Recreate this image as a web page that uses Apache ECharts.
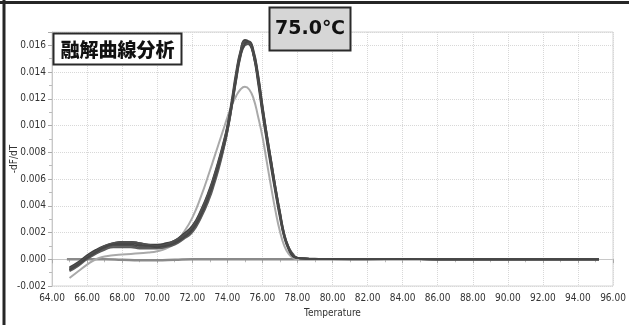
<!DOCTYPE html>
<html>
<head>
<meta charset="utf-8">
<script src="https://cdn.jsdelivr.net/npm/echarts@6/dist/echarts.min.js"></script>
<style>
html,body{margin:0;padding:0;background:#fff;}
#chart{width:629px;height:325px;}
</style>
</head>
<body>
<div id="chart"></div>
<script>
// Temperatures (°C) shared by the sample curves
const temps = [65, 65.5, 66, 66.5, 67, 67.5, 68, 68.5, 69, 69.5, 70, 70.5, 71, 71.5, 72,
  72.5, 73, 73.25, 73.5, 73.75, 74, 74.25, 74.5, 74.75, 75, 75.25, 75.5, 75.75, 76, 76.25,
  76.5, 76.75, 77, 77.25, 77.5, 77.75, 78, 78.5, 79, 80, 82, 84, 86, 90, 95.2];

// -dF/dT of the dark sample curves
const sample1 = [-0.0007, -0.0003, 0.0002, 0.0006, 0.0009, 0.0011, 0.0012, 0.0012, 0.0011, 0.0010, 0.0010, 0.0011, 0.0013, 0.0017, 0.0023,
  0.0035, 0.0051, 0.0061, 0.0072, 0.0084, 0.0098, 0.0116, 0.0137, 0.0154, 0.0162, 0.0161, 0.0152, 0.0134, 0.0111, 0.0090,
  0.0070, 0.0051, 0.0033, 0.0017, 0.0008, 0.0003, 0.0001, 0.00005, 0.00003, 0.00002, 0.00001, 0.00002, 0, 0, 0];
const sample2 = [-0.0008, -0.0004, 0.0001, 0.0005, 0.0008, 0.0010, 0.0010, 0.0010, 0.0009, 0.0009, 0.0009, 0.0010, 0.0012, 0.0016, 0.0021,
  0.0032, 0.0048, 0.0058, 0.0069, 0.0081, 0.0095, 0.0113, 0.0133, 0.0151, 0.0160, 0.0161, 0.0154, 0.0137, 0.0114, 0.0093,
  0.0073, 0.0053, 0.0035, 0.0018, 0.0009, 0.0003, 0.0001, 0.00006, 0.00004, 0.00002, 0.00001, 0.00003, 0, 0, 0];
const sample3 = [-0.0006, -0.0002, 0.0003, 0.0007, 0.0010, 0.0012, 0.0013, 0.0013, 0.0012, 0.0011, 0.0011, 0.0012, 0.0014, 0.0019, 0.0025,
  0.0037, 0.0053, 0.0063, 0.0074, 0.0086, 0.0100, 0.0119, 0.0140, 0.0156, 0.0164, 0.0162, 0.0152, 0.0132, 0.0109, 0.0088,
  0.0068, 0.0049, 0.0031, 0.0016, 0.0007, 0.0002, 0.0001, 0.00004, 0.00002, 0.00001, 0, 0.00001, 0, 0, 0];
const sample4 = [-0.0009, -0.0005, 0.0000, 0.0004, 0.0007, 0.0009, 0.0009, 0.0009, 0.0008, 0.0008, 0.0008, 0.0009, 0.0011, 0.0015, 0.0020,
  0.0031, 0.0046, 0.0056, 0.0067, 0.0080, 0.0095, 0.0114, 0.0135, 0.0153, 0.0161, 0.0162, 0.0155, 0.0138, 0.0115, 0.0094,
  0.0074, 0.0054, 0.0035, 0.0019, 0.0009, 0.0004, 0.0001, 0.00005, 0.00003, 0.00002, 0.00001, 0.00002, 0, 0, 0];
const sample5 = [-0.0007, -0.0003, 0.0002, 0.0006, 0.0010, 0.0012, 0.0013, 0.0013, 0.0012, 0.0011, 0.0010, 0.0011, 0.0014, 0.0018, 0.0024,
  0.0036, 0.0052, 0.0062, 0.0073, 0.0085, 0.0099, 0.0117, 0.0138, 0.0155, 0.0163, 0.0162, 0.0153, 0.0135, 0.0112, 0.0091,
  0.0071, 0.0051, 0.0033, 0.0017, 0.0008, 0.0003, 0.0001, 0.00005, 0.00003, 0.00002, 0.00001, 0.00002, 0, 0, 0];
const sample6 = [-0.0008, -0.0004, 0.0001, 0.0005, 0.0009, 0.0011, 0.0011, 0.0011, 0.0010, 0.0010, 0.0009, 0.0010, 0.0012, 0.0016, 0.0022,
  0.0033, 0.0049, 0.0059, 0.0070, 0.0082, 0.0096, 0.0114, 0.0134, 0.0152, 0.0161, 0.0163, 0.0156, 0.0139, 0.0116, 0.0094,
  0.0074, 0.0054, 0.0036, 0.0019, 0.0009, 0.0003, 0.0001, 0.00005, 0.00003, 0.00002, 0.00001, 0.00002, 0, 0, 0];
// light grey sample with the lower peak
const sampleLight = [-0.0014, -0.0009, -0.0004, 0.0000, 0.0002, 0.0003, 0.00035, 0.0004, 0.00045, 0.0005, 0.0006, 0.0008, 0.0012, 0.0020, 0.0031,
  0.0047, 0.0066, 0.0076, 0.0086, 0.0096, 0.0106, 0.0115, 0.0122, 0.0127, 0.0129, 0.0127, 0.0120, 0.0107, 0.0092, 0.0073,
  0.0054, 0.0036, 0.0021, 0.0010, 0.0004, 0.0001, 0, 0, 0, 0, 0, 0, 0, 0, 0];

// flat negative control
const baseTemps = [64.85, 66, 67, 68, 69, 70, 71, 72, 75, 80, 85, 90, 95.2];
const baseValues = [0, 0, 0, -0.00004, -0.00008, -0.00008, -0.00004, 0, 0, 0, 0, 0, 0];

const darkSamples = [sample1, sample2, sample3, sample4, sample5, sample6];
const darkColors = ['#4a4a4a', '#555555', '#3f3f3f', '#5c5c5c', '#505050', '#464646'];

const titleText = '融解曲線分析';
const peakText = '75.0℃';

const FONT = "'DejaVu Sans Condensed', 'Liberation Sans', sans-serif";

const pairs = (xs, ys) => xs.map((x, i) => [x, ys[i]]);

const series = [];
series.push({
  type: 'line', data: pairs(baseTemps, baseValues), smooth: true, showSymbol: false,
  lineStyle: { color: '#8a8a8a', width: 2.5 }, z: 2
});
series.push({
  type: 'line', data: pairs(temps, sampleLight), smooth: true, showSymbol: false,
  lineStyle: { color: '#a9a9a9', width: 2 }, z: 3
});
darkSamples.forEach((s, i) => {
  series.push({
    type: 'line', data: pairs(temps, s), smooth: true, showSymbol: false,
    lineStyle: { color: darkColors[i], width: 1.8 }, z: 4
  });
});

const chart = echarts.init(document.getElementById('chart'), null, { renderer: 'canvas' });
chart.setOption({
  animation: false,
  backgroundColor: '#ffffff',
  grid: { left: 52, right: 16, top: 32, bottom: 39, containLabel: false, outerBoundsMode: 'none',
    show: true, borderColor: '#d4d4d4', borderWidth: 1 },
  xAxis: {
    type: 'value', min: 64, max: 96, interval: 2,
    name: 'Temperature', nameLocation: 'middle', nameGap: 22,
    nameTextStyle: { fontFamily: FONT, fontSize: 10, color: '#333' },
    axisLine: { show: true, lineStyle: { color: '#c8c8c8' } },
    axisTick: { show: true, length: 4, lineStyle: { color: '#aaaaaa' } },
    minorTick: { show: true, splitNumber: 2, length: 3, lineStyle: { color: '#bbbbbb' } },
    axisLabel: { fontFamily: FONT, fontSize: 10, color: '#333', margin: 7,
      formatter: v => v.toFixed(2) },
    splitLine: { show: true, lineStyle: { color: '#d8d8d8', type: 'dotted' } }
  },
  yAxis: {
    type: 'value', min: -0.002, max: 0.017, interval: 0.002,
    name: '-dF/dT', nameLocation: 'middle', nameGap: 33, nameMoveOverlap: false,
    nameTextStyle: { fontFamily: FONT, fontSize: 10, color: '#333' },
    axisLine: { show: true, lineStyle: { color: '#c8c8c8' } },
    axisTick: { show: true, length: 4, lineStyle: { color: '#aaaaaa' } },
    minorTick: { show: true, splitNumber: 2, length: 3, lineStyle: { color: '#bbbbbb' } },
    axisLabel: { fontFamily: FONT, fontSize: 10, color: '#333', margin: 6,
      showMaxLabel: false,
      formatter: v => (Math.abs(v - 0.017) < 1e-9 ? '' : v.toFixed(3)) },
    splitLine: { show: true, lineStyle: { color: '#d8d8d8', type: 'dotted' } }
  },
  series: series,
  graphic: [
    { type: 'line', shape: { x1: 0, y1: 2.5, x2: 629, y2: 2.5 }, style: { stroke: '#262626', lineWidth: 3 }, z: 100 },
    { type: 'line', shape: { x1: 4, y1: 0, x2: 4, y2: 325 }, style: { stroke: '#262626', lineWidth: 3 }, z: 100 },
    { type: 'rect', shape: { x: 53.5, y: 33.5, width: 128, height: 31 },
      style: { fill: '#ffffff', stroke: '#2a2a2a', lineWidth: 2 }, z: 100 },
    { type: 'text', x: 117.5, y: 49.5, z: 101,
      style: { text: titleText, fill: '#111', font: '900 19px "Noto Sans CJK JP"', textAlign: 'center', textVerticalAlign: 'middle' } },
    { type: 'rect', shape: { x: 269.5, y: 7.5, width: 81, height: 43 },
      style: { fill: '#d6d6d6', stroke: '#2a2a2a', lineWidth: 2 }, z: 100 },
    { type: 'text', x: 310, y: 29.5, z: 101,
      style: { text: peakText, fill: '#111', font: 'bold 19px "DejaVu Sans"', textAlign: 'center', textVerticalAlign: 'middle' } }
  ]
});
</script>
</body>
</html>
